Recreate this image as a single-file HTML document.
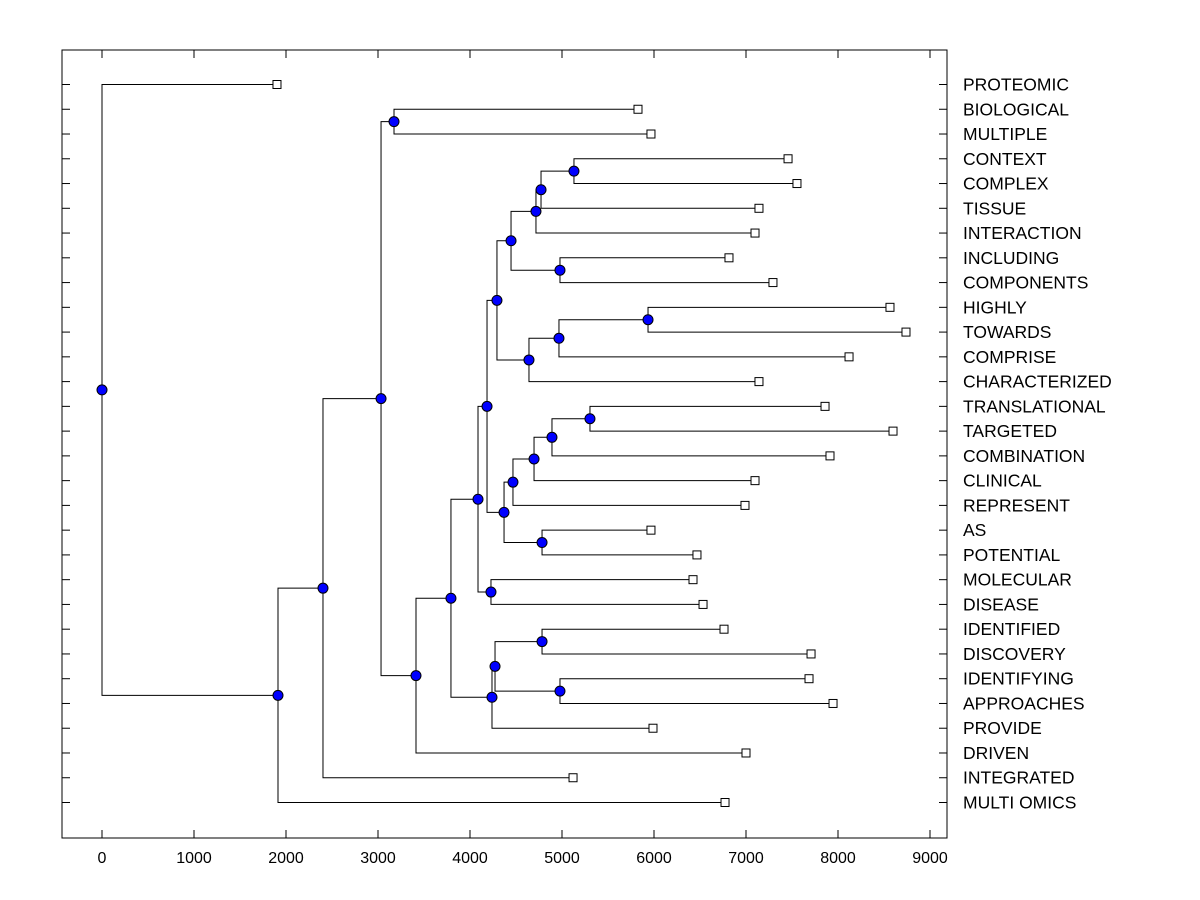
<!DOCTYPE html>
<html><head><meta charset="utf-8"><style>
html,body{margin:0;padding:0;background:#fff;}
svg{display:block;font-family:"Liberation Sans",Arial,sans-serif;}
</style></head><body>
<svg id="chart" width="1200" height="900" xmlns="http://www.w3.org/2000/svg"></svg>
<script>
const leaves = ["PROTEOMIC","BIOLOGICAL","MULTIPLE","CONTEXT","COMPLEX","TISSUE","INTERACTION","INCLUDING","COMPONENTS","HIGHLY","TOWARDS","COMPRISE","CHARACTERIZED","TRANSLATIONAL","TARGETED","COMBINATION","CLINICAL","REPRESENT","AS","POTENTIAL","MOLECULAR","DISEASE","IDENTIFIED","DISCOVERY","IDENTIFYING","APPROACHES","PROVIDE","DRIVEN","INTEGRATED","MULTI OMICS"];
const leafValues = [1902,5826,5967,7457,7554,7141,7098,6815,7293,8565,8739,8120,7141,7859,8598,7913,7098,6989,5967,6467,6424,6533,6761,7707,7685,7946,5989,7000,5120,6772];
// merges: [childA, childB, height]; leaves referenced as "L<index>", nodes as "N<index>"
const merges = [
 ["L1","L2",3174],   // N0
 ["L3","L4",5130],   // N1
 ["N1","L5",4772],   // N2
 ["N2","L6",4717],   // N3
 ["L7","L8",4978],   // N4
 ["N3","N4",4446],   // N5
 ["L9","L10",5935],  // N6
 ["N6","L11",4967],  // N7
 ["N7","L12",4641],  // N8
 ["N5","N8",4293],   // N9
 ["L13","L14",5304], // N10
 ["N10","L15",4891], // N11
 ["N11","L16",4696], // N12
 ["N12","L17",4467], // N13
 ["L18","L19",4783], // N14
 ["N13","N14",4370], // N15
 ["N9","N15",4185],  // N16
 ["L20","L21",4228], // N17
 ["N16","N17",4087], // N18
 ["L22","L23",4783], // N19
 ["L24","L25",4978], // N20
 ["N19","N20",4272], // N21
 ["N21","L26",4239], // N22
 ["N18","N22",3793], // N23
 ["N23","L27",3413], // N24
 ["N0","N24",3033],  // N25
 ["N25","L28",2402], // N26
 ["N26","L29",1913], // N27
 ["L0","N27",0]      // N28
];
const xTicks = [0,1000,2000,3000,4000,5000,6000,7000,8000,9000];

const svg = document.getElementById('chart');
const NS = "http://www.w3.org/2000/svg";
const L=62,R=947,T=50,B=838;
const xs = v => 102 + v*0.092;
const ys = i => 84.5 + i*(802-84)/29;
function mk(tag, attrs){const e=document.createElementNS(NS,tag);for(const k in attrs)e.setAttribute(k,attrs[k]);svg.appendChild(e);return e;}

const frame = mk('rect',{x:L,y:T,width:R-L,height:B-T,fill:'none',stroke:'#000','stroke-width':1});



xTicks.forEach(t=>{
  const x=xs(t);
  const a=mk('line',{x1:x,x2:x,y1:B,y2:B-8,stroke:'#000'});
  
  
  const b=mk('line',{x1:x,x2:x,y1:T,y2:T+8,stroke:'#000'});
  
  
  const tx=mk('text',{x:x,y:863,'text-anchor':'middle','font-size':16});
  tx.textContent=t;
  
  
});

leaves.forEach((n,i)=>{
  const y=ys(i);
  const a=mk('line',{x1:L,x2:L+8,y1:y,y2:y,stroke:'#000'});
  
  
  const b=mk('line',{x1:R-8,x2:R,y1:y,y2:y,stroke:'#000'});
  
  
  const tx=mk('text',{x:963,y:y+6,'font-size':17.5});
  tx.textContent=n;
  
  
});

const nodePos=[];
function pos(id){
  const i=+id.slice(1);
  if(id[0]==='L') return {x:xs(leafValues[i]),y:ys(i)};
  return nodePos[i];
}
merges.forEach(m=>{
  const a=pos(m[0]), b=pos(m[1]), x=xs(m[2]);
  const y=(a.y+b.y)/2;
  const p=mk('path',{d:`M${a.x},${a.y}H${x}V${b.y}H${b.x}`,fill:'none',stroke:'#000','stroke-width':1});
  
  
  nodePos.push({x,y});
});
leaves.forEach((n,i)=>{
  const x=xs(leafValues[i]), y=ys(i);
  const r=mk('rect',{x:x-4,y:y-4,width:8,height:8,fill:'#fff',stroke:'#000'});
  
  
});
nodePos.forEach(p=>{
  const c=mk('circle',{cx:p.x,cy:p.y,r:5,fill:'#0000ff',stroke:'#000'});
  
  
});
</script>
</body></html>
